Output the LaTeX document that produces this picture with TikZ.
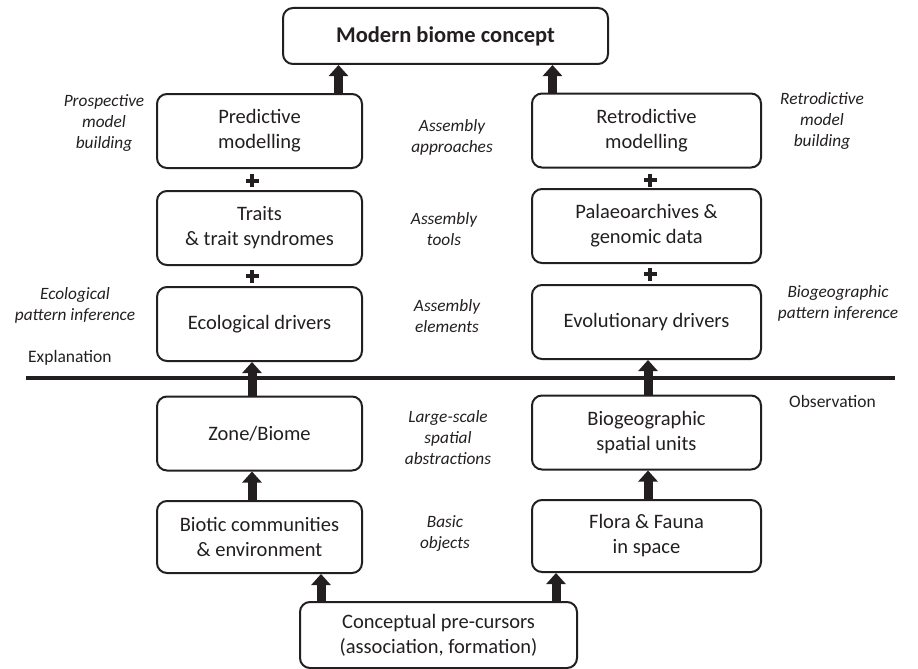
\documentclass[tikz,border=0pt]{standalone}
\usepackage{fontspec}
\setmainfont{Carlito}
\usetikzlibrary{arrows.meta}
\definecolor{ink}{HTML}{231F20}
\begin{document}
\begin{tikzpicture}[x=1pt,y=-1pt,
  box/.style={draw=ink, line width=2pt, rounded corners=10pt, minimum height=74pt, inner sep=0pt, align=center, font=\fontsize{20.5}{25}\selectfont, text=ink},
  lbox/.style={box, minimum width=205pt},
  rbox/.style={box, minimum width=229pt},
  lab/.style={align=center, font=\fontsize{17.3}{21.2}\selectfont\itshape, text=ink, inner sep=0pt},
  side/.style={font=\fontsize{17.5}{21}\selectfont, text=ink, inner sep=0pt, anchor=west},
  bigarrow/.style={draw=ink, line width=9pt, -{Triangle[width=19pt,length=11pt]}},
  plussign/.style={draw=ink, line width=4pt},
  sepline/.style={draw=ink, line width=3.5pt},
]
\useasboundingbox (0,0) rectangle (918,669);

% boxes
\node[box, minimum width=325pt, minimum height=56pt, font=\fontsize{22.5}{27}\selectfont\bfseries] (top) at (445.5,36) {Modern biome concept};

\node[lbox] (pred) at (259.5,131) {Predictive\\modelling};
\node[lbox] (traits) at (259.5,228) {Traits\\\& trait syndromes};
\node[lbox] (eco) at (259.5,324) {Ecological drivers};
\node[lbox] (zone) at (259.5,433.5) {Zone/Biome};
\node[lbox, minimum height=72pt] (biotic) at (259.5,537) {Biotic communities\\\& environment};

\node[rbox] (retro) at (646.5,130.5) {Retrodictive\\modelling};
\node[rbox] (palaeo) at (646.5,226) {Palaeoarchives \&\\genomic data};
\node[rbox] (evol) at (646.5,322) {Evolutionary drivers};
\node[rbox] (biogeo) at (646.5,432.5) {Biogeographic\\spatial units};
\node[rbox, minimum height=72pt] (flora) at (646.5,536) {Flora \& Fauna\\in space};

\node[box, minimum width=277pt, minimum height=66pt] (bottom) at (438.5,635) {Conceptual pre-cursors\\(association, formation)};

% labels
\node[lab] (l1) at (104,123) {Prospective\\model\\building};
\node[lab] (l2) at (75,305) {Ecological\\pattern inference};
\node[lab] (r1) at (822,121) {Retrodictive\\model\\building};
\node[lab] (r2) at (838,303.5) {Biogeographic\\pattern inference};
\node[lab] (c1) at (452,137.5) {Assembly\\approaches};
\node[lab] (c2) at (444,229) {Assembly\\tools};
\node[lab] (c3) at (447,316) {Assembly\\elements};
\node[lab] (c4) at (448,437.5) {Large-scale\\spatial\\abstractions};
\node[lab] (c5) at (445,533.5) {Basic\\objects};
\node[side] (expl) at (28,358) {Explanation};
\node[side] (obs) at (789,401) {Observation};

% separator
\coordinate (sepL) at (26,378);
\coordinate (sepR) at (895,378);
\draw[sepline] (sepL) -- (sepR);

% arrows
\coordinate (t1) at ([xshift=-107pt]top.south);
\coordinate (t2) at ([xshift=107pt]top.south);
\draw[bigarrow] (t1 |- pred.north) -- (t1);
\draw[bigarrow] (t2 |- retro.north) -- (t2);

\draw[bigarrow] ([xshift=-7.5pt]zone.north) -- ([xshift=-7.5pt]eco.south);
\draw[bigarrow] ([xshift=-7.5pt]biotic.north) -- ([xshift=-7.5pt]zone.south);
\draw[bigarrow] ([xshift=1.5pt]biogeo.north) -- ([xshift=1.5pt]evol.south);
\draw[bigarrow] ([xshift=1.5pt]flora.north) -- ([xshift=1.5pt]biogeo.south);

\coordinate (b1) at ([xshift=-117.5pt]bottom.north);
\coordinate (b2) at ([xshift=117.5pt]bottom.north);
\draw[bigarrow] (b1) -- (b1 |- biotic.south);
\draw[bigarrow] (b2) -- (b2 |- flora.south);

% plus signs
\draw[plussign] (245.5,180.5) -- ++(13,0) (252,174) -- ++(0,13);
\draw[plussign] (245.5,276) -- ++(13,0) (252,269.5) -- ++(0,13);
\draw[plussign] (643.5,180) -- ++(13,0) (650,173.5) -- ++(0,13);
\draw[plussign] (643.5,274) -- ++(13,0) (650,267.5) -- ++(0,13);
\end{tikzpicture}
\end{document}
